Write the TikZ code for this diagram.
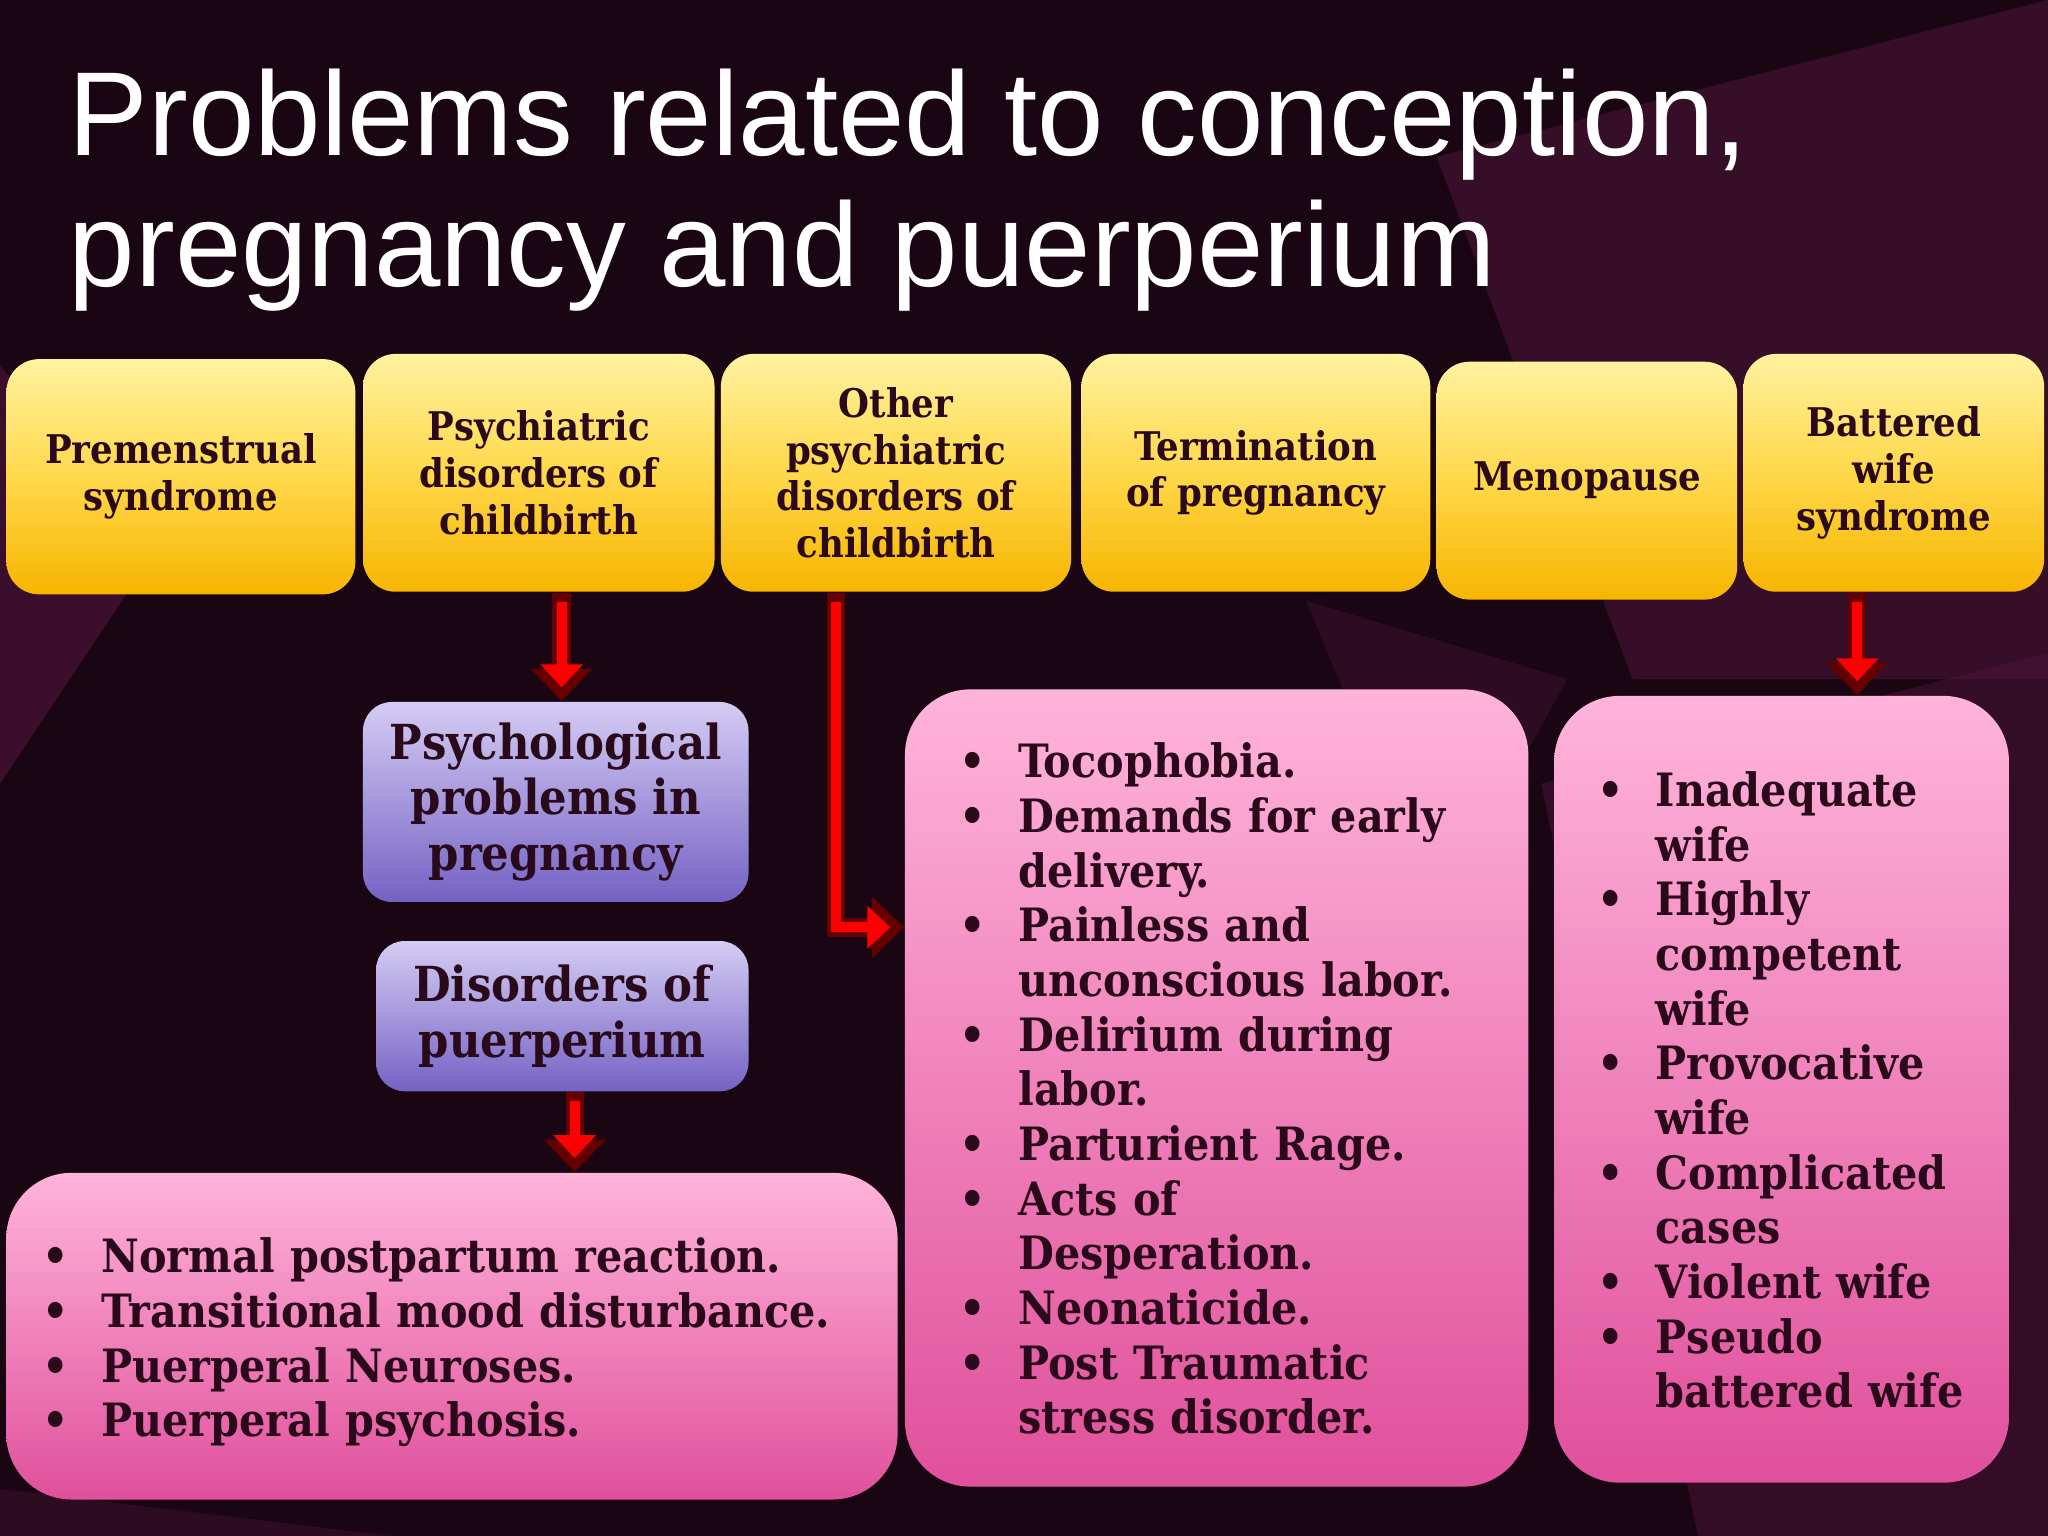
\documentclass[tikz,border=0pt]{standalone}
\usepackage{fontspec}
\setmainfont{DejaVu Serif Condensed}
\newfontfamily\titlefont{Liberation Sans}
\usetikzlibrary{arrows.meta}
\definecolor{bg}{HTML}{1A0612}
\definecolor{poly}{HTML}{4A1438}
\definecolor{txt}{HTML}{2A0A1A}
\definecolor{pinktop}{HTML}{FFB4DA}
\definecolor{pinkbot}{HTML}{E0509C}
\definecolor{yt}{HTML}{FFF2A0}
\definecolor{ym}{HTML}{FFD84A}
\definecolor{yb}{HTML}{F7B500}
\definecolor{vt}{HTML}{D4CCF4}
\definecolor{vb}{HTML}{7462C4}
\newcommand{\blist}[1]{\begin{list}{\textbullet}{\leftmargin=0.45cm\labelwidth=0.3cm\labelsep=0.15cm\itemsep=0pt\parsep=0pt\topsep=0pt\partopsep=0pt\def\makelabel##1{##1\hfil}}#1\end{list}}
\tikzset{
 ybox/.style={rounded corners=0.25cm,draw=none,top color=yt,bottom color=yb,middle color=ym,align=center,font=\bfseries\fontsize{8.6}{10.2}\selectfont,text=txt},
 pbox/.style={rounded corners=0.22cm,draw=none,top color=vt,bottom color=vb,align=center,font=\bfseries\fontsize{10.5}{12}\selectfont,text=txt},
 kbox/.style={rounded corners=0.5cm,draw=none,top color=pinktop,bottom color=pinkbot,text=txt},
 ltxt/.style={anchor=north west,text=txt,font=\bfseries\fontsize{10}{11.9}\selectfont,inner sep=0},
 rarr/.style={line width=4pt,draw=red!40!black,-{Triangle[length=7pt,width=13pt]}},
 rin/.style={line width=2.2pt,draw=red,-{Triangle[length=5pt,width=9pt]}}
}
\begin{document}
\begin{tikzpicture}[x=0.01cm,y=-0.01cm]
\useasboundingbox (0,0) rectangle (1568,1176);
\fill[bg] (0,0) rectangle (1568,1176);
\fill[poly,opacity=0.7] (0,280) -- (120,420) -- (0,600) -- cycle;
\fill[poly,opacity=0.6] (1100,120) -- (1568,0) -- (1568,520) -- (1250,520) -- cycle;
\fill[poly,opacity=0.5] (1180,600) -- (1568,500) -- (1568,1176) -- (1300,1176) -- cycle;
\fill[poly,opacity=0.4] (1000,460) -- (1200,520) -- (1100,700) -- cycle;
\fill[poly,opacity=0.4] (0,1140) -- (300,1176) -- (0,1176) -- cycle;
\node[anchor=north west,text=white,font=\titlefont\fontsize{26}{28.5}\selectfont,align=left,inner sep=0] (title) at (52,52) {Problems related to conception,\\pregnancy and puerperium};
% top boxes
\node[ybox,minimum width=2.67cm,minimum height=1.8cm] (b1) at (138.5,365) {Premenstrual\\syndrome};
\node[ybox,minimum width=2.69cm,minimum height=1.82cm] (b2) at (412.5,362) {Psychiatric\\disorders of\\childbirth};
\node[ybox,minimum width=2.68cm,minimum height=1.82cm] (b3) at (686,362) {Other\\psychiatric\\disorders of\\childbirth};
\node[ybox,minimum width=2.67cm,minimum height=1.82cm] (b4) at (961.5,362) {Termination\\of pregnancy};
\node[ybox,minimum width=2.3cm,minimum height=1.82cm] (b5) at (1215,368) {Menopause};
\node[ybox,minimum width=2.3cm,minimum height=1.82cm] (b6) at (1450,362) {Battered\\wife\\syndrome};
% purple
\node[pbox,minimum width=2.95cm,minimum height=1.53cm] (p1) at (425.5,614) {Psychological\\problems in\\pregnancy};
\node[pbox,minimum width=2.85cm,minimum height=1.15cm] (p2) at (430.5,778) {Disorders of\\puerperium};
% pink
\node[kbox,minimum width=6.82cm,minimum height=2.5cm] (k1) at (346,1023) {};
\node[ltxt,text width=6.4cm] (t1) at (32,932) {\blist{\item Normal postpartum reaction.\item Transitional mood disturbance.\item Puerperal Neuroses.\item Puerperal psychosis.}};
\node[kbox,minimum width=4.77cm,minimum height=6.1cm] (k2) at (931.5,833) {};
\node[ltxt,text width=3.95cm] (t2) at (734,553) {\blist{\item Tocophobia.\item Demands for early delivery.\item Painless and unconscious labor.\item Delirium during labor.\item Parturient Rage.\item Acts of Desperation.\item Neonaticide.\item Post Traumatic stress disorder.}};
\node[kbox,minimum width=3.48cm,minimum height=6.02cm] (k3) at (1364,834) {};
\node[ltxt,text width=2.9cm] (t3) at (1222,575) {\blist{\item Inadequate wife\item Highly competent wife\item Provocative wife\item Complicated cases\item Violent wife\item Pseudo battered wife}};
% arrows
\draw[rarr] (b2.south -| 430,0) -- (p1.north -| 430,0);
\draw[rin] ([yshift=-2pt]b2.south -| 430,0) -- ([yshift=3pt]p1.north -| 430,0);
\coordinate (c1) at (640,710);
\draw[rarr] (b3.south -| 640,0) -- (c1) -- (k2.west |- c1);
\draw[rin] ([yshift=-2pt]b3.south -| 640,0) -- (c1) -- ([xshift=-3pt]k2.west |- c1);
\draw[rarr] (p2.south -| 440,0) -- (k1.north -| 440,0);
\draw[rin] ([yshift=-2pt]p2.south -| 440,0) -- ([yshift=3pt]k1.north -| 440,0);
\draw[rarr] (b6.south -| 1422,0) -- (k3.north -| 1422,0);
\draw[rin] ([yshift=-2pt]b6.south -| 1422,0) -- ([yshift=3pt]k3.north -| 1422,0);
\end{tikzpicture}
\end{document}
